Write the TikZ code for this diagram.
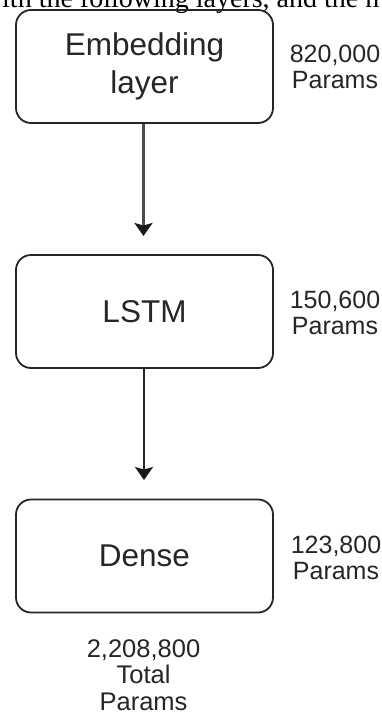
\documentclass[tikz,border=0pt]{standalone}
\usepackage{fontspec}
\setmainfont{Liberation Sans}
\newfontfamily\serifnote{Liberation Serif}
\usetikzlibrary{arrows.meta}

\tikzset{
  layerbox/.style={draw=black!85, line width=1.8pt, rounded corners=15pt,
    minimum width=257pt, minimum height=113pt, inner sep=0pt, align=center,
    text=black!85, font=\fontsize{31.5}{38}\selectfont},
  countlabel/.style={align=center, inner sep=0pt, text=black!85,
    font=\fontsize{25}{26}\selectfont},
  flow/.style={draw=black!85, line width=2pt,
    -{Stealth[length=13pt, width=18pt, inset=2.5pt, color=black!90]}},
}

\begin{document}
\begin{tikzpicture}[x=1pt, y=-1pt]
  \path[use as bounding box] (0,0) rectangle (382,715);
  \clip (0,0) rectangle (382,715);
  \fill[white] (0,0) rectangle (382,715);

  % running text of the page, cut by the top edge
  \node[anchor=base west, inner sep=0pt, font=\serifnote\fontsize{28}{32}\selectfont]
    (lead) at (2,7) {ith the following layers, and the n};

  % layers
  \node[layerbox] (emb)   at (144.5,66.5)  {Embedding\\layer};
  \node[layerbox] (lstm)  at (144.5,311.5) {LSTM};
  \node[layerbox] (dense) at (144.5,556)   {Dense};

  % arrow ends, left short of the next box
  \coordinate (tip1) at (143.5,236);
  \coordinate (tip2) at (144,480);
  \draw[flow, line width=3pt, draw=black!70] ([xshift=-1pt]emb.south) -- (tip1);
  \draw[flow] ([xshift=-0.5pt]lstm.south) -- (tip2);

  % parameter counts
  \node[countlabel] (embn)   at (335,66.5)  {820,000\\Params};
  \node[countlabel] (lstmn)  at (335,313)   {150,600\\Params};
  \node[countlabel] (densen) at (336,558)   {123,800\\Params};
  \node[countlabel, font=\fontsize{25.5}{26.5}\selectfont]
    (total) at (143.5,675) {2,208,800\\Total\\Params};
\end{tikzpicture}
\end{document}
